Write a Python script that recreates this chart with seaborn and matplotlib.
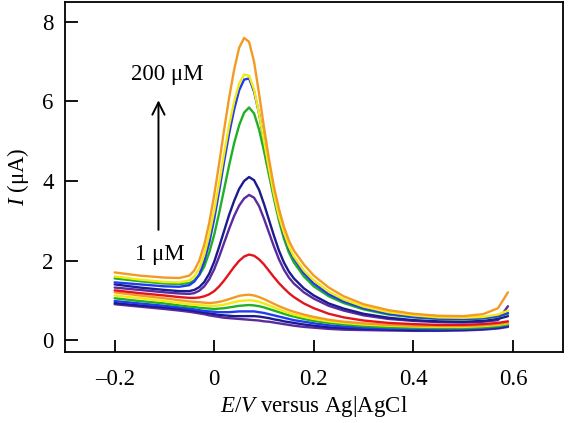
import numpy as np
import pandas as pd
import matplotlib
matplotlib.use("Agg")
import matplotlib.pyplot as plt
import seaborn as sns

# potential axis (V), shared by all curves
potential = [-0.2, -0.15, -0.1, -0.07, -0.05, -0.04, -0.03, -0.02, -0.01, 0.0,
             0.01, 0.02, 0.03, 0.04, 0.05, 0.06, 0.07, 0.08, 0.09, 0.1,
             0.11, 0.12, 0.13, 0.14, 0.15, 0.16, 0.18, 0.2, 0.23, 0.26,
             0.3, 0.35, 0.4, 0.45, 0.5, 0.54, 0.57, 0.59]

# currents (uA), lowest to highest concentration
purple_lo = [0.90, 0.84, 0.78, 0.74, 0.71, 0.69, 0.67, 0.65, 0.62, 0.60,
             0.58, 0.56, 0.55, 0.54, 0.53, 0.52, 0.51, 0.50, 0.49, 0.47,
             0.46, 0.44, 0.42, 0.40, 0.38, 0.36, 0.33, 0.31, 0.28, 0.26,
             0.25, 0.24, 0.23, 0.23, 0.24, 0.26, 0.29, 0.33]
navy_lo = [0.93, 0.87, 0.82, 0.78, 0.75, 0.73, 0.71, 0.69, 0.67, 0.65,
           0.63, 0.62, 0.61, 0.60, 0.60, 0.60, 0.60, 0.60, 0.59, 0.57,
           0.55, 0.52, 0.50, 0.47, 0.45, 0.43, 0.39, 0.36, 0.32, 0.30,
           0.28, 0.26, 0.25, 0.25, 0.26, 0.28, 0.31, 0.35]
blue_lo = [0.98, 0.92, 0.86, 0.82, 0.79, 0.77, 0.75, 0.73, 0.72, 0.71,
           0.70, 0.70, 0.70, 0.71, 0.72, 0.72, 0.72, 0.72, 0.70, 0.68,
           0.65, 0.62, 0.59, 0.56, 0.53, 0.50, 0.46, 0.42, 0.37, 0.34,
           0.31, 0.29, 0.28, 0.27, 0.28, 0.30, 0.33, 0.37]
green_lo = [1.05, 0.98, 0.92, 0.87, 0.84, 0.83, 0.81, 0.80, 0.79, 0.78,
            0.79, 0.80, 0.82, 0.84, 0.86, 0.87, 0.88, 0.87, 0.85, 0.82,
            0.78, 0.74, 0.70, 0.66, 0.62, 0.59, 0.53, 0.48, 0.43, 0.39,
            0.35, 0.32, 0.31, 0.30, 0.30, 0.32, 0.35, 0.39]
yellow_lo = [1.12, 1.05, 0.98, 0.93, 0.90, 0.89, 0.88, 0.87, 0.86, 0.86,
             0.87, 0.89, 0.92, 0.95, 0.98, 0.99, 1.00, 0.99, 0.96, 0.92,
             0.87, 0.82, 0.77, 0.72, 0.68, 0.64, 0.58, 0.53, 0.47, 0.43,
             0.39, 0.36, 0.34, 0.33, 0.33, 0.35, 0.38, 0.42]
orange_lo = [1.20, 1.12, 1.05, 1.00, 0.97, 0.96, 0.95, 0.94, 0.93, 0.94,
             0.96, 0.99, 1.03, 1.07, 1.11, 1.13, 1.14, 1.12, 1.08, 1.03,
             0.97, 0.91, 0.85, 0.80, 0.75, 0.71, 0.64, 0.58, 0.51, 0.46,
             0.42, 0.38, 0.36, 0.35, 0.35, 0.37, 0.40, 0.44]
red_hi = [1.25, 1.18, 1.12, 1.08, 1.06, 1.06, 1.07, 1.10, 1.15, 1.23,
          1.35, 1.50, 1.67, 1.84, 1.99, 2.10, 2.15, 2.12, 2.03, 1.90,
          1.74, 1.58, 1.43, 1.30, 1.18, 1.08, 0.92, 0.80, 0.66, 0.57,
          0.49, 0.43, 0.40, 0.38, 0.38, 0.40, 0.43, 0.47]
purple_hi = [1.32, 1.26, 1.20, 1.17, 1.16, 1.18, 1.24, 1.35, 1.53, 1.78,
             2.10, 2.45, 2.80, 3.12, 3.38, 3.56, 3.65, 3.58, 3.37, 3.05,
             2.70, 2.35, 2.03, 1.77, 1.57, 1.42, 1.20, 1.04, 0.86, 0.74,
             0.62, 0.53, 0.48, 0.45, 0.44, 0.46, 0.50, 0.85]
navy_hi = [1.40, 1.32, 1.26, 1.23, 1.23, 1.26, 1.33, 1.46, 1.67, 1.97,
           2.35, 2.75, 3.15, 3.50, 3.80, 4.00, 4.10, 4.02, 3.78, 3.42,
           3.02, 2.62, 2.25, 1.95, 1.72, 1.55, 1.30, 1.12, 0.92, 0.79,
           0.66, 0.56, 0.50, 0.47, 0.46, 0.48, 0.53, 0.60]
green_hi = [1.55, 1.48, 1.42, 1.41, 1.43, 1.50, 1.63, 1.85, 2.20, 2.65,
            3.20, 3.80, 4.40, 4.95, 5.40, 5.72, 5.85, 5.70, 5.30, 4.75,
            4.15, 3.55, 3.00, 2.55, 2.20, 1.95, 1.60, 1.35, 1.10, 0.93,
            0.77, 0.64, 0.57, 0.53, 0.52, 0.54, 0.59, 0.66]
blue_hi = [1.45, 1.40, 1.35, 1.34, 1.38, 1.47, 1.65, 1.98, 2.45, 3.05,
           3.75, 4.50, 5.20, 5.80, 6.28, 6.55, 6.58, 6.25, 5.70, 5.00,
           4.30, 3.65, 3.10, 2.65, 2.30, 2.05, 1.68, 1.42, 1.15, 0.97,
           0.80, 0.66, 0.58, 0.54, 0.53, 0.55, 0.60, 0.68]
yellow_hi = [1.60, 1.52, 1.46, 1.45, 1.50, 1.60, 1.80, 2.15, 2.65, 3.25,
             3.95, 4.70, 5.40, 6.00, 6.45, 6.68, 6.65, 6.30, 5.70, 5.00,
             4.30, 3.65, 3.10, 2.70, 2.35, 2.10, 1.75, 1.50, 1.22, 1.02,
             0.84, 0.70, 0.62, 0.57, 0.56, 0.58, 0.64, 0.74]
orange_hi = [1.70, 1.62, 1.57, 1.56, 1.62, 1.75, 2.00, 2.40, 2.95, 3.65,
             4.45, 5.30, 6.10, 6.80, 7.35, 7.60, 7.50, 7.00, 6.20, 5.35,
             4.55, 3.85, 3.30, 2.85, 2.50, 2.25, 1.90, 1.62, 1.32, 1.10,
             0.90, 0.75, 0.66, 0.61, 0.60, 0.65, 0.80, 1.20]

curves = [purple_lo, navy_lo, blue_lo, green_lo, yellow_lo, orange_lo, red_hi,
          purple_hi, navy_hi, green_hi, blue_hi, yellow_hi, orange_hi]
colors = ["#5a2a9e", "#1b1b8f", "#1f3cf0", "#1fb025", "#f2ea10", "#f39a25", "#e3141c",
          "#5a2a9e", "#1b1b8f", "#1fb025", "#1f3cf0", "#f2ea10", "#f39a25"]

rows = []
for i, cur in enumerate(curves):
    assert len(cur) == len(potential), i
    for x, y in zip(potential, cur):
        rows.append({"E": x, "I": y, "curve": i})
df = pd.DataFrame(rows)

sns.set_theme(style="ticks")
plt.rcParams["font.family"] = ["Liberation Serif", "DejaVu Serif"]
plt.rcParams["mathtext.fontset"] = "custom"
plt.rcParams["mathtext.rm"] = "Liberation Serif"
plt.rcParams["mathtext.it"] = "Liberation Serif:italic"
for k in ["text.color", "axes.labelcolor", "xtick.color", "ytick.color", "axes.edgecolor"]:
    plt.rcParams[k] = "black"

fig = plt.figure(figsize=(5.69, 4.23), dpi=100)
ax = fig.add_axes([0.114, 0.168, 0.875, 0.827])

sns.lineplot(data=df, x="E", y="I", hue="curve", palette=colors, estimator=None,
             sort=False, linewidth=1.7, legend=False, ax=ax)

ax.set_xlim(-0.3, 0.7)
ax.set_ylim(-0.3, 8.5)
ax.set_xticks([-0.2, 0, 0.2, 0.4, 0.6])
ax.set_xticklabels(["\u20130.2", "0", "0.2", "0.4", "0.6"])
ax.set_yticks([0, 2, 4, 6, 8])
ax.set_yticklabels(["0", "2", "4", "6", "8"])
ax.tick_params(direction="in", length=9, width=1.3, labelsize=16.5, top=False, right=False)
ax.tick_params(axis="x", pad=12)
ax.tick_params(axis="y", pad=8)
for s in ax.spines.values():
    s.set_linewidth(1.3)

ax.set_xlabel(r"$E/V$ versus Ag|AgCl", fontsize=16.5, labelpad=3)
ax.set_ylabel(r"$I$ (μA)", fontsize=16.5, labelpad=8)

ax.annotate("", xy=(-0.112, 6.1), xytext=(-0.112, 2.7),
            arrowprops=dict(arrowstyle="->", lw=1.4, color="black", mutation_scale=22))
ax.text(-0.094, 6.67, "200 μM", fontsize=16.5, ha="center", va="center")
ax.text(-0.11, 2.14, "1 μM", fontsize=16.5, ha="center", va="center")

fig.savefig("out.png", dpi=100)
